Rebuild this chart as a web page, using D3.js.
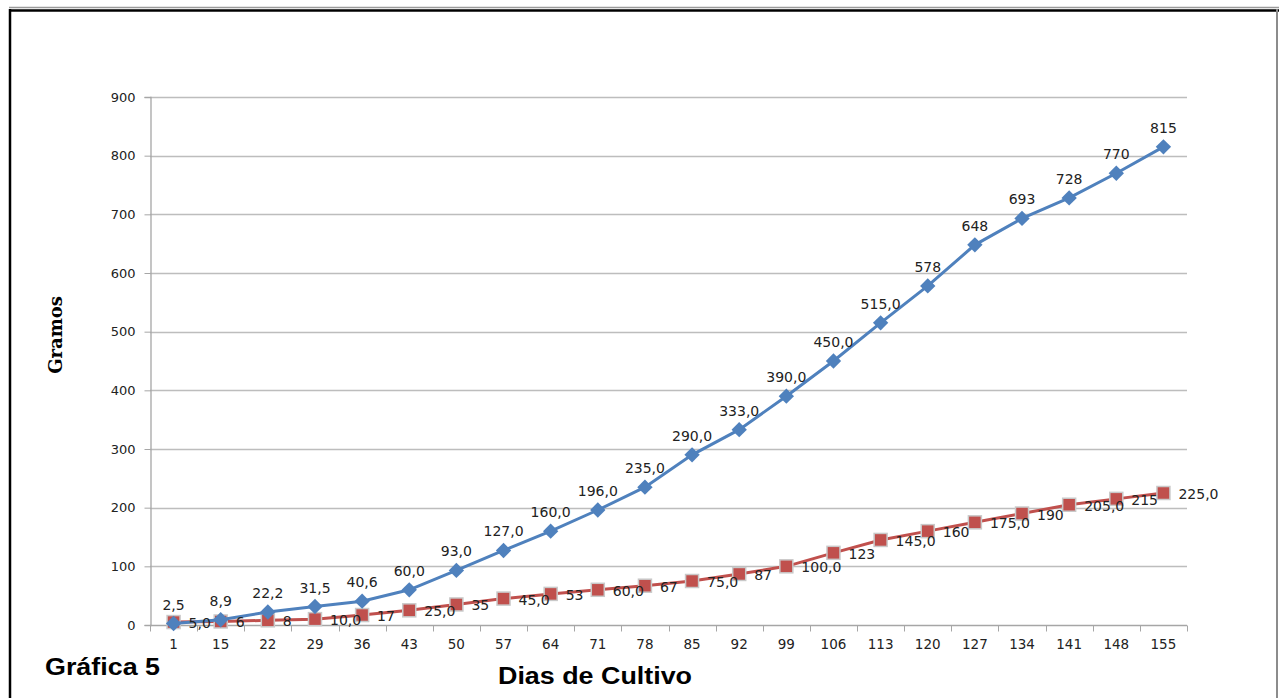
<!DOCTYPE html>
<html>
<head>
<meta charset="utf-8">
<script src="https://cdn.jsdelivr.net/npm/d3@7/dist/d3.min.js"></script>
<style>
  html, body { margin: 0; padding: 0; background: #fff; }
  svg { display: block; }
</style>
</head>
<body>
<svg id="chart" width="1279" height="698"></svg>
<script>
// Days of culture (category axis)
const dias = ["1","15","22","29","36","43","50","57","64","71","78","85","92","99","106","113","120","127","134","141","148","155"];

// Weight series, grams
const serieAzul = [2.5, 8.9, 22.2, 31.5, 40.6, 60.0, 93.0, 127.0, 160.0, 196.0, 235.0, 290.0, 333.0, 390.0, 450.0, 515.0, 578, 648, 693, 728, 770, 815];
const etiquetasAzul = ["2,5","8,9","22,2","31,5","40,6","60,0","93,0","127,0","160,0","196,0","235,0","290,0","333,0","390,0","450,0","515,0","578","648","693","728","770","815"];

const serieRoja = [5.0, 6, 8, 10.0, 17, 25.0, 35, 45.0, 53, 60.0, 67, 75.0, 87, 100.0, 123, 145.0, 160, 175.0, 190, 205.0, 215, 225.0];
const etiquetasRoja = ["5,0","6","8","10,0","17","25,0","35","45,0","53","60,0","67","75,0","87","100,0","123","145,0","160","175,0","190","205,0","215","225,0"];

const yTicks = [0, 100, 200, 300, 400, 500, 600, 700, 800, 900];

const svg = d3.select("#chart");
const font = "'DejaVu Sans', Verdana, sans-serif";

// Frame around the figure
svg.append("line").attr("x1", 9).attr("x2", 1279).attr("y1", 7.5).attr("y2", 7.5)
  .attr("stroke", "#9a9a9a").attr("stroke-width", 1.5);
svg.append("line").attr("x1", 9).attr("x2", 1279).attr("y1", 10.5).attr("y2", 10.5)
  .attr("stroke", "#000").attr("stroke-width", 2.5);
svg.append("line").attr("x1", 10).attr("x2", 10).attr("y1", 9).attr("y2", 698)
  .attr("stroke", "#000").attr("stroke-width", 2.5);
svg.append("line").attr("x1", 1277).attr("x2", 1277).attr("y1", 9).attr("y2", 698)
  .attr("stroke", "#8c8c8c").attr("stroke-width", 2);

const plot = { left: 150, right: 1187, top: 97, bottom: 625 };

const x = d3.scaleBand().domain(dias).range([plot.left, plot.right]);
const y = d3.scaleLinear().domain([0, 900]).range([plot.bottom, plot.top]);
const cx = d => x(d) + x.bandwidth() / 2;

// Horizontal gridlines
svg.append("g").selectAll("line").data(yTicks.filter(t => t > 0)).join("line")
  .attr("x1", plot.left).attr("x2", plot.right)
  .attr("y1", d => Math.round(y(d)) + 0.5).attr("y2", d => Math.round(y(d)) + 0.5)
  .attr("stroke", "#bdbdbd").attr("stroke-width", 1.3);

// Y axis
const yAxis = svg.append("g").attr("transform", `translate(${plot.left + 0.5},0)`)
  .call(d3.axisLeft(y).tickValues(yTicks).tickSize(6).tickPadding(9).tickFormat(d3.format("d")));
yAxis.select(".domain").attr("stroke", "#a6a6a6").attr("stroke-width", 1.3);
yAxis.selectAll(".tick line").attr("stroke", "#a6a6a6");
yAxis.selectAll("text").attr("font-family", font).attr("font-size", 13).attr("fill", "#222");

// X axis with ticks on band boundaries
const xg = svg.append("g").attr("transform", `translate(0,${plot.bottom + 0.5})`);
xg.append("line").attr("x1", plot.left).attr("x2", plot.right).attr("y1", 0).attr("y2", 0)
  .attr("stroke", "#a6a6a6").attr("stroke-width", 1.3);
const bounds = dias.map(d => x(d)).concat([plot.right]);
xg.selectAll("line.tk").data(bounds).join("line").attr("class", "tk")
  .attr("x1", d => Math.round(d) + 0.5).attr("x2", d => Math.round(d) + 0.5)
  .attr("y1", 0).attr("y2", 6).attr("stroke", "#a6a6a6");
xg.selectAll("text").data(dias).join("text")
  .attr("x", d => cx(d)).attr("y", 23)
  .attr("text-anchor", "middle")
  .attr("font-family", font).attr("font-size", 13.5).attr("fill", "#222")
  .text(d => d);

const line = d3.line().x((v, i) => cx(dias[i])).y(v => y(v));

// Red series
svg.append("path").datum(serieRoja).attr("d", line)
  .attr("fill", "none").attr("stroke", "#C0504D").attr("stroke-width", 3);
svg.append("g").selectAll("rect").data(serieRoja).join("rect")
  .attr("x", (v, i) => cx(dias[i]) - 6.5).attr("y", v => y(v) - 6.5)
  .attr("width", 13).attr("height", 13)
  .attr("fill", "#C0504D").attr("stroke", "#c9c9c9").attr("stroke-width", 1.5);

// Blue series
svg.append("path").datum(serieAzul).attr("d", line)
  .attr("fill", "none").attr("stroke", "#4F81BD").attr("stroke-width", 3);
svg.append("g").selectAll("path").data(serieAzul).join("path")
  .attr("d", d3.symbol().type(d3.symbolDiamond2).size(150))
  .attr("transform", (v, i) => `translate(${cx(dias[i])},${y(v)})`)
  .attr("fill", "#4F81BD");

// Red data labels, right of each marker
svg.append("g").selectAll("text").data(serieRoja).join("text")
  .attr("x", (v, i) => cx(dias[i]) + 15).attr("y", v => y(v) + 6)
  .attr("font-family", font).attr("font-size", 14).attr("fill", "#222")
  .text((v, i) => etiquetasRoja[i]);

// Blue data labels, above each marker
svg.append("g").selectAll("text").data(serieAzul).join("text")
  .attr("x", (v, i) => cx(dias[i])).attr("y", v => y(v) - 14)
  .attr("text-anchor", "middle")
  .attr("font-family", font).attr("font-size", 14).attr("fill", "#222")
  .text((v, i) => etiquetasAzul[i]);

// Axis titles and caption
svg.append("text")
  .attr("transform", "translate(62,335) rotate(-90)")
  .attr("text-anchor", "middle")
  .attr("font-family", "'DejaVu Serif', serif").attr("font-weight", "bold").attr("font-size", 18)
  .attr("fill", "#000").text("Gramos");

svg.append("text").attr("x", 498).attr("y", 684)
  .attr("textLength", 194).attr("lengthAdjust", "spacingAndGlyphs")
  .attr("font-family", "'Liberation Sans', Arial, sans-serif").attr("font-weight", "bold").attr("font-size", 23)
  .attr("fill", "#000").text("Dias de Cultivo");

svg.append("text").attr("x", 45).attr("y", 675)
  .attr("textLength", 115).attr("lengthAdjust", "spacingAndGlyphs")
  .attr("font-family", "'Liberation Sans', Arial, sans-serif").attr("font-weight", "bold").attr("font-size", 23)
  .attr("fill", "#000").text("Gráfica 5");
</script>
</body>
</html>
